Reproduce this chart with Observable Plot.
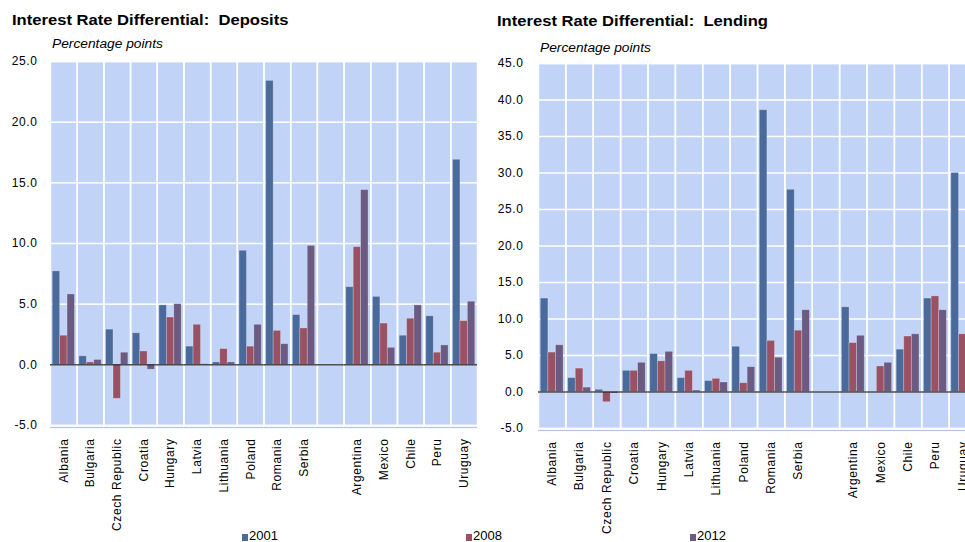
<!DOCTYPE html>
<html>
<head>
<meta charset="utf-8">
<script src="https://cdn.jsdelivr.net/npm/d3@7"></script>
<script src="https://cdn.jsdelivr.net/npm/@observablehq/plot@0.6"></script>
<style>
  html, body { margin: 0; padding: 0; background: #fff; overflow: hidden; width: 965px; height: 542px; }
  body { position: relative; font-family: "Liberation Sans", Arial, sans-serif; }
  .panel { position: absolute; top: 0; }
  .panel svg { max-width: none !important; }
  .title { position: absolute; font-weight: bold; font-size: 15.5px; color: #000; white-space: pre; transform: scaleX(1.07); transform-origin: left top; }
  .unit { position: absolute; font-style: italic; font-size: 12.5px; color: #000; transform: scaleX(1.1); transform-origin: left top; }
  .leg { position: absolute; top: 528px; font-size: 13px; font-family: "Liberation Sans Narrow", "Liberation Sans", Arial, sans-serif; color: #000; }
  .leg span.sw { display: inline-block; width: 6px; height: 7px; margin-right: 1px; vertical-align: -1px; }
</style>
</head>
<body>
<div class="title" style="left:12px; top:11px;">Interest Rate Differential:  Deposits</div>
<div class="unit" style="left:52px; top:37px;">Percentage points</div>
<div class="title" style="left:497px; top:12px;">Interest Rate Differential:  Lending</div>
<div class="unit" style="left:540px; top:41px;">Percentage points</div>
<div id="left" class="panel" style="left:0px; width:490px;"></div>
<div id="right" class="panel" style="left:485px; width:500px;"></div>
<div class="leg" style="left:242px;"><span class="sw" style="background:#4a6a9b"></span>2001</div>
<div class="leg" style="left:466px;"><span class="sw" style="background:#9a5163"></span>2008</div>
<div class="leg" style="left:690px;"><span class="sw" style="background:#6b5a82"></span>2012</div>
<script>
const countries = ["Albania","Bulgaria","Czech Republic","Croatia","Hungary","Latvia","Lithuania","Poland","Romania","Serbia"," ","Argentina","Mexico","Chile","Peru","Uruguay"];
const years = ["2001","2008","2012"];
const colors = ["#4a6a9b","#9a5163","#6b5a82"];

const deposits2001 = [7.7, 0.7, 2.9, 2.6, 4.9, 1.5, 0.2, 9.4, 23.4, 4.1, null, 6.4, 5.6, 2.4, 4.0, 16.9];
const deposits2008 = [2.4, 0.2, -2.8, 1.1, 3.9, 3.3, 1.3, 1.5, 2.8, 3.0, null, 9.7, 3.4, 3.8, 1.0, 3.6];
const deposits2012 = [5.8, 0.4, 1.0, -0.4, 5.0, 0.05, 0.2, 3.3, 1.7, 9.8, null, 14.4, 1.4, 4.9, 1.6, 5.2];

const lending2001 = [12.8, 1.9, 0.3, 2.9, 5.2, 1.9, 1.5, 6.2, 38.6, 27.7, null, 11.6, null, 5.8, 12.8, 30.0];
const lending2008 = [5.4, 3.2, -1.4, 2.9, 4.2, 2.9, 1.8, 1.2, 7.0, 8.4, null, 6.7, 3.5, 7.6, 13.1, 7.9];
const lending2012 = [6.4, 0.6, -0.2, 4.0, 5.5, 0.2, 1.3, 3.4, 4.7, 11.2, null, 7.7, 4.0, 7.9, 11.2, null];

const depositTicks = [-5, 0, 5, 10, 15, 20, 25];
const lendingTicks = [-5, 0, 5, 10, 15, 20, 25, 30, 35, 40, 45];

const bg = "#c1d3f6";

function makeData(series) {
  const rows = [];
  countries.forEach((c, i) => years.forEach((yr, j) => rows.push({country: c, year: yr, value: series[j][i]})));
  return rows;
}

function chart(series, ticks, o) {
  const data = makeData(series);
  return Plot.plot({
    width: o.width, height: o.height,
    marginLeft: o.marginLeft, marginRight: o.marginRight,
    marginTop: o.marginTop, marginBottom: o.marginBottom,
    style: {fontFamily: "'Liberation Sans', Arial, sans-serif", fontSize: "12px", letterSpacing: "0.6px", color: "#000", background: "transparent", overflow: "visible", maxWidth: "none"},
    fx: {domain: countries, padding: 0, round: false, label: null, tickSize: 0, tickPadding: 13, tickRotate: -90, axis: "bottom"},
    x: {domain: years, paddingInner: 0, paddingOuter: 0.3, round: false, axis: null},
    y: {domain: [ticks[0], ticks[ticks.length - 1]], ticks: ticks, tickFormat: d => d.toFixed(1), label: null, tickSize: 0, tickPadding: o.tickPadding},
    color: {domain: years, range: colors},
    marks: [
      Plot.frame({fill: bg}),
      Plot.gridY(ticks, {stroke: "white", strokeOpacity: 1, strokeWidth: 1.5}),
      Plot.frame({stroke: "white", strokeWidth: 1.5}),
      Plot.ruleY([ticks[0]], {stroke: "#b3c3e6", strokeWidth: 1.2, dy: 2}),
      Plot.barY(data, {fx: "country", x: "year", y: "value", fill: "year", stroke: "white", strokeOpacity: 0.3, strokeWidth: 0.8}),
      Plot.ruleY([0], {stroke: "#2a2a2a", strokeWidth: 1.3})
    ]
  });
}

document.getElementById("left").appendChild(chart([deposits2001, deposits2008, deposits2012], depositTicks,
  {width: 490, height: 505, marginLeft: 50, marginRight: 13, marginTop: 61, marginBottom: 80, tickPadding: 13}));
document.getElementById("right").appendChild(chart([lending2001, lending2008, lending2012], lendingTicks,
  {width: 500, height: 508, marginLeft: 53, marginRight: 9, marginTop: 63, marginBottom: 80, tickPadding: 15}));
</script>
</body>
</html>
